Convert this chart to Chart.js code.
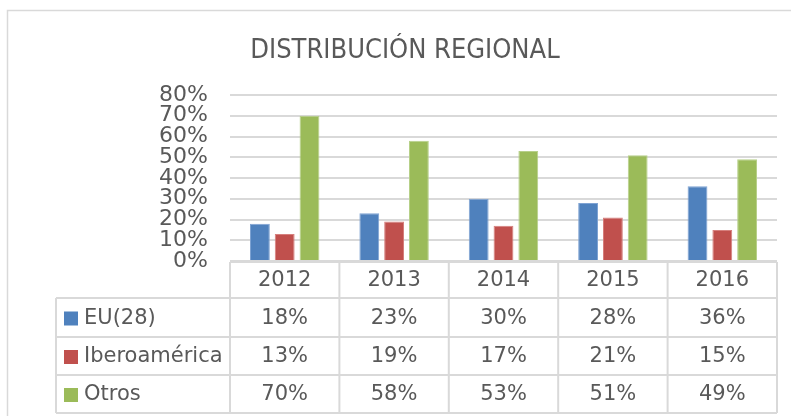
<!DOCTYPE html>
<html>
<head>
<meta charset="utf-8">
<script src="https://cdn.jsdelivr.net/npm/chart.js@4/dist/chart.umd.min.js"></script>
<style>
  html, body { margin: 0; padding: 0; background: #fff; }
  #wrap { width: 791px; height: 416px; position: relative; }
</style>
</head>
<body>
<div id="wrap"><canvas id="regionChart" width="791" height="416"></canvas></div>
<script>
// datos
const years = ['2012', '2013', '2014', '2015', '2016'];
const euData = [18, 23, 30, 28, 36];
const iberoData = [13, 19, 17, 21, 15];
const otrosData = [70, 58, 53, 51, 49];
const seriesNames = ['EU(28)', 'Iberoamérica', 'Otros'];
const yTicks = [0, 10, 20, 30, 40, 50, 60, 70, 80];

const colors = ['#4F81BD', '#C0504D', '#9BBB59'];
const borders = ['#7FA3D3', '#D67F7D', '#B7D08A'];
const textColor = '#595959';
const lineColor = '#D9D9D9';
const fontFam = '"DejaVu Sans", Verdana, sans-serif';

// titulo + marco + tabla de datos
const tablePlugin = {
  id: 'tablePlugin',
  beforeDraw(chart) {
    const c = chart.ctx;
    c.save();
    c.strokeStyle = lineColor;
    c.lineWidth = 1.5;
    c.strokeRect(7.5, 10.5, 800, 420);
    c.restore();
  },
  afterDraw(chart) {
    const c = chart.ctx;
    const x = chart.scales.x;
    const area = chart.chartArea;
    const colW = (area.right - area.left) / years.length;
    const rows = [262, 298, 337, 375, 413];
    const tableLeft = 56;

    c.save();
    // titulo
    c.fillStyle = textColor;
    c.font = '27px "Liberation Sans Narrow", "DejaVu Sans Condensed", sans-serif';
    c.textAlign = 'center';
    c.textBaseline = 'alphabetic';
    c.fillText('DISTRIBUCIÓN REGIONAL', 405, 58);

    // lineas de la tabla
    c.strokeStyle = lineColor;
    c.lineWidth = 2;
    c.beginPath();
    c.moveTo(area.left, rows[0]); c.lineTo(area.right, rows[0]);
    for (let r = 1; r < rows.length; r++) {
      c.moveTo(tableLeft, rows[r]); c.lineTo(area.right, rows[r]);
    }
    for (let i = 0; i <= years.length; i++) {
      const px = area.left + i * colW;
      c.moveTo(px, rows[0]); c.lineTo(px, rows[4]);
    }
    c.moveTo(tableLeft, rows[1]); c.lineTo(tableLeft, rows[4]);
    c.stroke();

    // textos
    c.fillStyle = textColor;
    c.font = '21px ' + fontFam;
    c.textBaseline = 'middle';
    c.textAlign = 'center';
    years.forEach((y, i) => {
      c.fillText(y, x.getPixelForValue(i), (rows[0] + rows[1]) / 2 + 1);
    });
    chart.data.datasets.forEach((ds, r) => {
      const cy = (rows[r + 1] + rows[r + 2]) / 2 + 1;
      ds.data.forEach((v, i) => {
        c.textAlign = 'center';
        c.fillStyle = textColor;
        c.fillText(v + '%', x.getPixelForValue(i), cy);
      });
      c.fillStyle = colors[r];
      c.fillRect(64, cy - 7, 14, 14);
      c.fillStyle = textColor;
      c.textAlign = 'left';
      c.fillText(seriesNames[r], 84, cy);
    });
    c.restore();
  }
};

const ctx = document.getElementById('regionChart').getContext('2d');
const chart = new Chart(ctx, {
  type: 'bar',
  data: {
    labels: years,
    datasets: [
      { label: seriesNames[0], data: euData, backgroundColor: colors[0], borderColor: borders[0], borderWidth: 1 },
      { label: seriesNames[1], data: iberoData, backgroundColor: colors[1], borderColor: borders[1], borderWidth: 1 },
      { label: seriesNames[2], data: otrosData, backgroundColor: colors[2], borderColor: borders[2], borderWidth: 1 }
    ]
  },
  options: {
    responsive: false,
    animation: false,
    datasets: { bar: { categoryPercentage: 0.68, barPercentage: 0.8 } },
    layout: { padding: { top: 95, right: 14, bottom: 155, left: 0 } },
    plugins: {
      legend: { display: false },
      title: { display: false },
      tooltip: { enabled: false }
    },
    scales: {
      x: { display: false },
      y: {
        min: 0,
        max: 80,
        afterFit: s => { s.width = 230; },
        afterBuildTicks: s => { s.ticks = yTicks.map(v => ({ value: v })); },
        border: { display: false },
        grid: { color: lineColor, lineWidth: 2, drawTicks: false },
        ticks: {
          color: textColor,
          padding: 22,
          autoSkip: false,
          font: { size: 22, family: fontFam },
          callback: v => v + '%'
        }
      }
    }
  },
  plugins: [tablePlugin]
});
</script>
</body>
</html>
